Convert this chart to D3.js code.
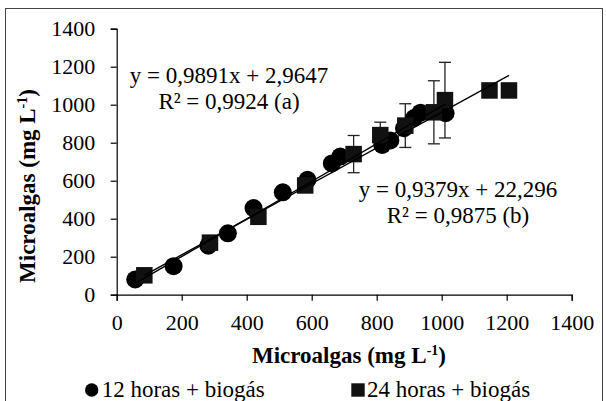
<!DOCTYPE html>
<html>
<head>
<meta charset="utf-8">
<script src="https://cdn.jsdelivr.net/npm/d3@7"></script>
</head>
<body style="margin:0; background:#fff">
<script>
// values
var x12 = [57, 175, 282, 342, 421, 511, 587, 662, 688, 817, 842, 884, 915, 935, 1012];
var y12 = [80, 150, 258, 323, 456, 539, 605, 691, 727, 788, 812, 876, 930, 958, 955];
var x24 = [85, 287, 436, 580, 729, 811, 888, 976, 1010, 1147, 1207];
var y24 = [102, 274, 410, 575, 740, 840, 890, 960, 1024, 1075, 1075];
var err24 = [0, 0, 0, 0, 98, 68, 115, 166, 199, 0, 0];
var ticks = [0, 200, 400, 600, 800, 1000, 1200, 1400];
// trendlines: slope, intercept
var fitA = [0.9891, 2.9647];
var fitB = [0.9379, 22.296];

var width = 606, height = 401;
var font = 'Liberation Serif';
var svg = d3.select('body').append('svg')
    .attr('width', width)
    .attr('height', height)
    .attr('font-family', font);

// frame
svg.append('rect')
    .attr('x', 5.5).attr('y', 8.5)
    .attr('width', 597).attr('height', 400)
    .attr('fill', 'none').attr('stroke', '#444');

var x = d3.scaleLinear().domain([0, 1400]).range([116.7, 571.7]);
var y = d3.scaleLinear().domain([0, 1400]).range([294.7, 28.7]);

svg.append('g')
    .attr('transform', 'translate(0,' + y(0) + ')')
    .call(d3.axisBottom(x).tickValues(ticks).tickSize(6).tickPadding(13.5).tickFormat(d3.format('d')));
svg.append('g')
    .attr('transform', 'translate(' + x(0) + ',0)')
    .call(d3.axisLeft(y).tickValues(ticks).tickSize(6).tickPadding(15.5).tickFormat(d3.format('d')));
svg.selectAll('.domain, .tick line').attr('stroke', '#000').attr('stroke-width', 1.2);
svg.selectAll('.tick text')
    .attr('font-family', font)
    .attr('font-size', 22)
    .attr('fill', '#000');

// trendlines
function drawFit(f, xs) {
    var x0 = d3.min(xs), x1 = d3.max(xs);
    svg.append('line')
        .attr('x1', x(x0)).attr('y1', y(f[0] * x0 + f[1]))
        .attr('x2', x(x1)).attr('y2', y(f[0] * x1 + f[1]))
        .attr('stroke', '#000').attr('stroke-width', 1.4);
}

// error bars (24 h series)
var eb = svg.append('g').attr('stroke', '#222').attr('stroke-width', 1.3);
x24.forEach(function(v, i) {
    if (!err24[i]) return;
    var cx = x(v), t = y(y24[i] + err24[i]), b = y(y24[i] - err24[i]);
    eb.append('line').attr('x1', cx).attr('x2', cx).attr('y1', t).attr('y2', b);
    eb.append('line').attr('x1', cx - 6).attr('x2', cx + 6).attr('y1', t).attr('y2', t);
    eb.append('line').attr('x1', cx - 6).attr('x2', cx + 6).attr('y1', b).attr('y2', b);
});

// markers
svg.append('g').selectAll('circle')
    .data(x12).enter().append('circle')
    .attr('cx', function(d) { return x(d); })
    .attr('cy', function(d, i) { return y(y12[i]); })
    .attr('r', 9)
    .attr('fill', '#000');

var sq = 16.5;
svg.append('g').selectAll('rect')
    .data(x24).enter().append('rect')
    .attr('x', function(d) { return x(d) - sq / 2; })
    .attr('y', function(d, i) { return y(y24[i]) - sq / 2; })
    .attr('width', sq).attr('height', sq)
    .attr('fill', '#111');

drawFit(fitA, x12);
drawFit(fitB, x24);

// equations
function label(cx, lines, ys) {
    lines.forEach(function(t, i) {
        svg.append('text')
            .attr('x', cx).attr('y', ys[i])
            .attr('text-anchor', 'middle')
            .attr('font-family', font)
            .attr('font-size', 23)
            .text(t);
    });
}
label(229, ['y = 0,9891x + 2,9647', 'R² = 0,9924 (a)'], [83, 109]);
label(458, ['y = 0,9379x + 22,296', 'R² = 0,9875 (b)'], [197, 223]);

// axis titles
var title = 'Microalgas (mg L<tspan dy="-8" font-size="14">-1</tspan><tspan dy="8">)</tspan>';
svg.append('text')
    .attr('x', 349).attr('y', 363)
    .attr('text-anchor', 'middle')
    .attr('font-family', font)
    .attr('font-size', 23).attr('font-weight', 'bold')
    .html(title);
svg.append('text')
    .attr('transform', 'translate(35,186) rotate(-90)')
    .attr('text-anchor', 'middle')
    .attr('font-family', font)
    .attr('font-size', 23).attr('font-weight', 'bold')
    .html(title);

// legend
svg.append('circle').attr('cx', 91.7).attr('cy', 390).attr('r', 6.7).attr('fill', '#000');
svg.append('text').attr('x', 101.7).attr('y', 397).attr('font-family', font).attr('font-size', 23).text('12 horas + biogás');
svg.append('rect').attr('x', 351.3).attr('y', 383.3).attr('width', 13.4).attr('height', 13.4).attr('fill', '#111');
svg.append('text').attr('x', 367).attr('y', 397).attr('font-family', font).attr('font-size', 23).text('24 horas + biogás');
</script>
</body>
</html>
